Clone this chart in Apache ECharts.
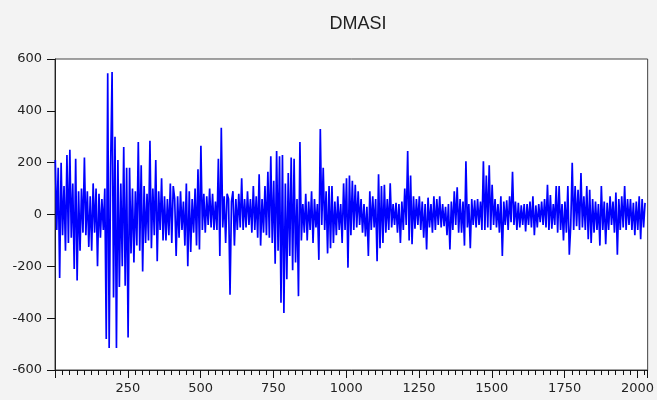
<!DOCTYPE html>
<html>
<head>
<meta charset="utf-8">
<script src="https://cdn.jsdelivr.net/npm/echarts@6/dist/echarts.min.js"></script>
<style>
html,body{margin:0;padding:0;background:#f3f3f3;}
#chart{width:657px;height:400px;}
</style>
</head>
<body>
<div id="chart"></div>
<script>
const chartTitle = 'DMASI';
const obsStart = 1;
const obsStep = 5;
const xTickLabels = [250, 500, 750, 1000, 1250, 1500, 1750, 2000];
const yTickLabels = [-600, -400, -200, 0, 200, 400, 600];

const seg1 = [210,-60,180,-245,200,-80,110,-140,230,-110,
250,-90,120,-210,215,-255,90,-140,100,-70,
220,-80,90,-125,70,-140,120,-70,100,-200,
80,-90,60,-60,100,-480,545,-515,180,550,
-320,300,-515,210,-280,120,-200,260,-275,180,
-475,180,-150,100,-185,90,-120,280,-140,190,
-220,110,-110,80,-100,285,-130,100,-80,210,
-180,90,-60,140,-100,70,-100,60,-80,120,
-110,110];
const seg2 = [60,-160,70,-90,90,-60,50,-120,120,-200,
90,-145,60,-70,100,-120,175,-135,265,-60,
80,-70,70,-40,100,-50,80,-60,50,-60,
215,-160,335,-50,70,-110,80,60,-310,50,
90,-120,60,-60,80,-50,140,-60,60,-50,
90,-40,60,-70,110,-60,70,-90,155,-120,
60,-70,110,-80,165,-90,225,-110,130,-190,
245,-140,225,-340,230,-380,120,-250,160,-160,
220,-215];
const seg3 = [215,-185,60,-315,280,-100,40,-70,80,-100,
50,-60,90,-110,60,-50,40,-175,330,-40,
180,-60,90,-150,110,-130,110,-110,50,-80,
70,-60,40,-110,120,-60,140,-205,150,-80,
130,-60,115,-50,90,-40,60,-70,40,-85,
30,-160,90,-60,70,-50,60,-180,155,-130,
110,-110,115,-70,60,-60,120,-50,40,-40,
45,-70,40,-110,50,-60,100,-40,245,-100,
150,-115];
const seg4 = [70,-55,60,-40,70,-60,50,-90,40,-135,
65,-50,40,-70,70,-60,60,-40,70,-50,
40,-45,30,-80,40,-135,50,-60,90,-40,
105,-70,60,-70,50,-120,205,-50,40,-130,
60,-40,55,-50,60,-40,50,-60,205,-60,
150,-50,190,-60,115,-40,60,-50,40,-70,
70,-160,50,-40,55,-60,70,-30,165,-40,
50,-60,45,-50,35,-40,40,-65,40,-40,
50,-50];
const seg5 = [70,-80,35,-50,40,-30,50,-40,60,-50,
115,-60,75,-55,40,-40,110,-70,110,-60,
40,-100,50,-70,110,-155,-40,200,-60,110,
-45,95,-60,160,-50,70,-60,110,-95,95,
-110,60,-70,50,-60,40,-120,110,-60,50,
-115,45,-60,70,-40,50,-70,85,-155,60,
-60,70,-50,110,-60,60,-40,60,-60,45,
-80,50,-60,70,-95,60,-50,45];

const dmasi = seg1.concat(seg2, seg3, seg4, seg5);
const seriesData = dmasi.map((v, i) => [obsStart + obsStep * i, v]);

const labelFont = { fontFamily: 'DejaVu Sans', fontSize: 13, color: '#222' };

const chart = echarts.init(document.getElementById('chart'), null, { renderer: 'canvas' });
chart.setOption({
  animation: false,
  backgroundColor: '#f3f3f3',
  title: {
    text: chartTitle,
    left: 353,
    textAlign: 'center',
    top: 10,
    textStyle: { fontFamily: 'Liberation Sans', fontSize: 18, fontWeight: 'normal', color: '#222' }
  },
  grid: {
    left: 55, top: 59, right: 6, bottom: 30,
    show: true, backgroundColor: '#ffffff', borderColor: '#444', borderWidth: 1
  },
  xAxis: [{
    type: 'value', min: 0, max: 2035, interval: 25, position: 'bottom',
    axisLine: { show: true, onZero: false, lineStyle: { color: '#222', width: 1 } },
    axisTick: { show: true, length: 5, lineStyle: { color: '#111', width: 1 } },
    axisLabel: Object.assign({ margin: 12, showMinLabel: false, showMaxLabel: false, interval: 0,
      formatter: v => xTickLabels.indexOf(v) >= 0 ? String(v) : '' }, labelFont),
    splitLine: { show: false }
  }, {
    type: 'value', min: 0, max: 2035, interval: 250, position: 'bottom',
    axisLine: { show: true, onZero: false, lineStyle: { color: '#222', width: 1 } },
    axisTick: { show: true, length: 8, lineStyle: { color: '#111', width: 1 } },
    axisLabel: { show: false },
    splitLine: { show: false }
  }],
  yAxis: {
    type: 'value', min: -600, max: 600, interval: 200,
    axisLine: { show: true, onZero: false, lineStyle: { color: '#222', width: 1 } },
    axisTick: { show: true, length: 8, lineStyle: { color: '#111', width: 1 } },
    axisLabel: Object.assign({ margin: 13,
      formatter: v => yTickLabels.indexOf(v) >= 0 ? String(v) : '' }, labelFont),
    splitLine: { show: false }
  },
  series: [{
    type: 'line',
    xAxisIndex: 0,
    data: seriesData,
    showSymbol: false,
    symbol: 'none',
    sampling: null,
    lineStyle: { color: '#0000ff', width: 1.7 },
    itemStyle: { color: '#0000ff' }
  }]
});
</script>
</body>
</html>
